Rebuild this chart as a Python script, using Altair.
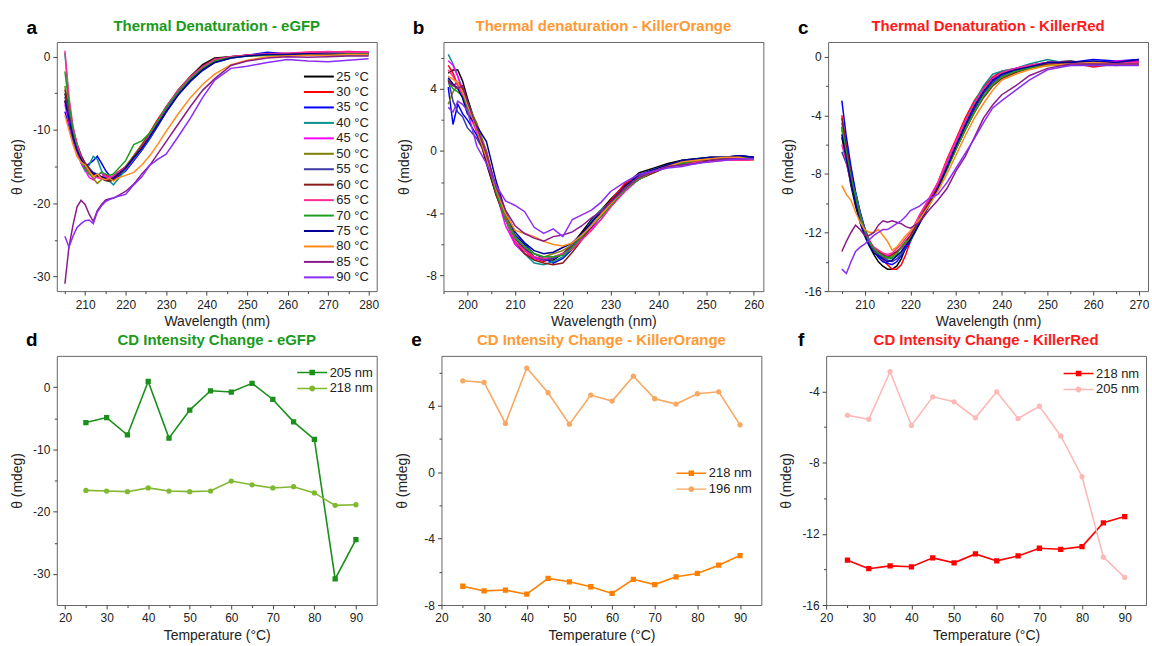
import altair as alt
import pandas as pd

FONT = "Liberation Sans"

TEMPS = [25, 30, 35, 40, 45, 50, 55, 60, 65, 70, 75, 80, 85, 90]
TEMP_LABELS = [str(t) + " °C" for t in TEMPS]
TEMP_COLORS = ["#000000", "#ff0000", "#0000ff", "#0a8f8f", "#ff00ff", "#808000",
               "#3b3ba3", "#8b1a1a", "#ff2a9a", "#1e9e1e", "#000099", "#ff8c1a",
               "#8b1a8b", "#8c2cf5"]

# ---------------- panel a : eGFP spectra ----------------
WL_A = [205, 206, 207, 208, 209, 210, 211, 212, 213, 214, 215, 216, 217, 218,
        220, 222, 224, 226, 228, 230, 233, 236, 239, 242, 246, 250,
        255, 260, 265, 270, 275, 280]
A25 = [-5.0, -7.5, -10.0, -12.0, -13.5, -14.8, -15.6, -16.0, -16.3, -16.6, -16.9, -17.0, -16.8, -16.4, -15.2, -13.8, -12.2, -10.5, -8.7, -7.0, -4.6, -2.7, -1.1, -0.2, 0.0, 0.1, 0.3, 0.3, 0.4, 0.4, 0.5, 0.5]
A30 = [-6.0, -8.5, -10.8, -12.6, -14.0, -15.0, -15.6, -15.9, -16.2, -16.4, -16.1, -16.5, -16.3, -15.8, -15.0, -13.6, -12.0, -10.3, -8.5, -6.9, -4.8, -3.0, -1.5, -0.6, 0.0, 0.2, 0.3, 0.4, 0.6, 0.6, 0.7, 0.6]
A35 = [-7.5, -9.5, -11.5, -13.0, -14.3, -15.0, -14.6, -14.2, -13.6, -14.5, -15.5, -16.2, -16.6, -16.4, -15.6, -14.2, -12.8, -11.2, -9.4, -7.6, -5.2, -3.4, -1.9, -0.8, -0.2, 0.2, 0.6, 0.4, 0.3, 0.4, 0.5, 0.5]
A40 = [0.5, -6.0, -10.0, -12.8, -14.5, -15.6, -14.8, -13.6, -14.0, -15.5, -16.6, -17.0, -17.5, -16.8, -15.4, -14.0, -12.6, -11.0, -9.2, -7.4, -5.1, -3.2, -1.7, -0.6, -0.2, 0.1, 0.3, 0.2, 0.3, 0.2, 0.3, 0.3]
A45 = [-6.5, -9.0, -11.2, -13.0, -14.5, -15.5, -16.5, -16.8, -16.3, -15.8, -16.5, -16.2, -16.6, -16.0, -15.3, -13.8, -12.4, -10.7, -8.9, -7.1, -4.9, -3.0, -1.5, -0.5, 0.0, 0.2, 0.3, 0.4, 0.5, 0.5, 0.6, 0.6]
A50 = [-4.0, -7.5, -10.0, -12.2, -13.8, -15.0, -16.0, -16.6, -17.3, -16.8, -16.4, -16.8, -16.5, -16.1, -15.0, -13.5, -12.0, -10.4, -8.7, -6.9, -4.7, -2.8, -1.4, -0.4, 0.0, 0.1, 0.2, 0.2, 0.2, 0.3, 0.3, 0.3]
A55 = [-5.5, -8.0, -10.5, -12.4, -13.8, -14.6, -15.2, -15.8, -16.0, -16.4, -16.6, -16.9, -16.5, -16.0, -15.1, -13.7, -12.3, -10.6, -8.8, -7.0, -4.8, -3.0, -1.6, -0.6, -0.1, 0.2, 0.4, 0.4, 0.4, 0.5, 0.5, 0.5]
A60 = [-4.5, -7.0, -9.8, -12.0, -13.5, -14.5, -15.3, -16.0, -16.3, -16.6, -16.8, -17.0, -16.8, -16.3, -15.2, -13.8, -12.2, -10.5, -8.7, -6.9, -4.5, -2.7, -1.3, -0.3, 0.0, 0.2, 0.3, 0.3, 0.4, 0.3, 0.4, 0.4]
A65 = [0.8, -5.5, -9.5, -12.0, -13.8, -15.0, -15.8, -16.2, -16.5, -16.7, -16.4, -16.6, -16.2, -15.8, -15.2, -13.9, -12.4, -10.6, -8.7, -6.8, -4.6, -2.8, -1.4, -0.4, 0.0, 0.2, 0.4, 0.5, 0.6, 0.7, 0.6, 0.6]
A70 = [-2.0, -6.5, -10.0, -12.5, -14.2, -15.3, -16.0, -16.4, -16.2, -15.8, -16.0, -16.2, -16.0, -15.4, -14.2, -12.0, -11.5, -10.4, -8.8, -6.9, -4.8, -3.0, -1.6, -0.6, -0.1, 0.1, 0.2, 0.3, 0.3, 0.3, 0.4, 0.4]
A75 = [-6.0, -8.5, -11.0, -12.8, -14.0, -14.9, -15.5, -15.9, -16.2, -16.4, -16.6, -16.7, -16.6, -16.1, -15.2, -13.8, -12.5, -10.9, -9.2, -7.5, -5.2, -3.3, -1.8, -0.8, -0.2, 0.1, 0.3, 0.3, 0.4, 0.3, 0.3, 0.3]
A80 = [-8.0, -10.0, -12.0, -13.6, -14.4, -14.8, -15.6, -16.4, -16.0, -16.6, -16.8, -16.6, -17.0, -16.6, -16.2, -15.8, -14.8, -13.5, -11.9, -10.2, -7.8, -5.6, -3.8, -2.4, -1.1, -0.5, 0.0, 0.1, 0.2, 0.2, 0.3, 0.3]
A85 = [-31.0, -26.0, -23.0, -20.5, -19.6, -20.2, -21.5, -22.5, -21.0, -20.2, -19.6, -19.4, -19.3, -19.0, -18.4, -17.4, -16.0, -14.8, -13.2, -11.6, -9.2, -6.8, -4.6, -3.0, -1.2, -0.6, -0.2, 0.0, -0.1, 0.0, 0.1, 0.1]
A90 = [-24.5, -26.0, -24.5, -23.3, -22.8, -22.4, -22.3, -22.8, -21.2, -20.4, -19.8, -19.5, -19.3, -19.1, -18.8, -17.5, -16.4, -14.8, -14.0, -13.3, -10.9, -8.4, -5.6, -3.2, -1.6, -1.3, -0.8, -0.4, -0.6, -0.7, -0.5, -0.3]
SERIES_A = [A25, A30, A35, A40, A45, A50, A55, A60, A65, A70, A75, A80, A85, A90]

# ---------------- panel b : KillerOrange spectra ----------------
WL_B = [196, 197, 198, 199, 200, 202, 204, 206, 208, 210, 212, 214, 216, 218, 220,
        222, 224, 226, 228, 230, 233, 236, 239, 242, 245, 248, 251, 254, 257, 260]
B25 = [5.0, 5.2, 5.2, 4.5, 3.4, 1.5, -0.8, -2.8, -4.4, -5.6, -6.2, -6.8, -7.0, -7.0, -6.6, -6.0, -5.2, -4.4, -3.8, -3.1, -2.2, -1.4, -1.1, -0.8, -0.6, -0.5, -0.4, -0.4, -0.3, -0.4]
B30 = [5.5, 5.0, 4.2, 3.8, 3.0, 1.4, -0.4, -2.5, -4.2, -5.6, -6.4, -6.9, -7.1, -6.9, -6.6, -6.0, -5.3, -4.6, -3.9, -3.2, -2.1, -1.6, -1.3, -0.9, -0.7, -0.6, -0.5, -0.5, -0.4, -0.5]
B35 = [4.1, 1.7, 3.0, 2.4, 2.0, 1.0, -0.2, -2.4, -4.0, -5.4, -6.0, -6.6, -6.9, -7.2, -6.9, -6.3, -5.6, -4.9, -4.2, -3.5, -2.4, -1.6, -1.3, -0.9, -0.7, -0.6, -0.5, -0.4, -0.3, -0.4]
B40 = [6.2, 5.6, 4.8, 4.0, 3.2, 1.6, -0.5, -2.7, -4.4, -6.0, -6.6, -7.2, -7.3, -7.1, -6.8, -6.2, -5.4, -4.5, -3.8, -3.3, -2.3, -1.6, -1.2, -1.0, -0.8, -0.6, -0.5, -0.4, -0.4, -0.4]
B45 = [5.8, 5.5, 4.8, 3.8, 3.0, 1.2, 0.0, -2.6, -4.8, -6.0, -6.6, -6.9, -7.0, -6.8, -6.6, -6.2, -5.6, -5.0, -4.4, -3.6, -2.6, -1.8, -1.3, -1.0, -0.8, -0.7, -0.6, -0.6, -0.5, -0.5]
B50 = [3.0, 3.8, 4.2, 3.6, 3.0, 1.8, 0.0, -2.4, -4.2, -5.5, -6.2, -6.6, -6.8, -6.6, -6.4, -6.0, -5.4, -4.8, -4.1, -3.4, -2.4, -1.8, -1.4, -1.0, -0.8, -0.7, -0.6, -0.6, -0.5, -0.6]
B55 = [4.6, 3.2, 2.5, 2.2, 1.5, 0.8, -0.3, -2.6, -4.4, -5.6, -6.3, -6.8, -7.0, -6.9, -6.6, -6.1, -5.4, -4.6, -3.9, -3.3, -2.3, -1.6, -1.2, -0.9, -0.7, -0.6, -0.5, -0.4, -0.4, -0.4]
B60 = [4.5, 4.2, 4.4, 4.0, 3.2, 1.2, -0.6, -2.8, -4.4, -5.8, -6.6, -7.0, -7.2, -7.3, -7.2, -6.5, -5.7, -4.8, -4.1, -3.4, -2.4, -1.8, -1.4, -1.0, -0.8, -0.7, -0.6, -0.5, -0.5, -0.5]
B65 = [5.2, 4.8, 4.2, 3.6, 2.6, 1.2, -0.2, -2.5, -4.4, -5.8, -6.4, -6.8, -6.9, -6.8, -6.6, -6.3, -5.7, -5.1, -4.4, -3.6, -2.5, -1.8, -1.3, -1.0, -0.9, -0.7, -0.7, -0.6, -0.6, -0.6]
B70 = [4.4, 4.0, 3.8, 3.5, 2.8, 1.4, -0.3, -2.6, -4.4, -5.6, -6.1, -6.6, -6.8, -6.8, -6.7, -6.2, -5.5, -4.8, -4.2, -3.5, -2.5, -1.8, -1.3, -1.0, -0.8, -0.6, -0.5, -0.5, -0.4, -0.5]
B75 = [4.7, 4.3, 4.0, 3.4, 2.4, 1.6, 0.6, -1.9, -3.9, -5.2, -5.9, -6.4, -6.6, -6.5, -6.2, -5.9, -5.3, -4.6, -3.9, -3.3, -2.3, -1.5, -1.2, -0.9, -0.6, -0.5, -0.4, -0.4, -0.3, -0.4]
B80 = [4.8, 4.6, 4.4, 3.8, 3.0, 1.4, -0.4, -2.4, -4.0, -5.1, -5.3, -5.5, -5.8, -6.0, -6.1, -5.9, -5.4, -4.8, -4.1, -3.4, -2.4, -1.7, -1.3, -1.0, -0.7, -0.6, -0.5, -0.4, -0.4, -0.6]
B85 = [4.4, 4.2, 4.0, 4.2, 3.2, 1.5, -0.2, -2.3, -3.8, -4.8, -5.3, -5.6, -5.8, -5.5, -5.4, -5.2, -4.8, -4.3, -3.9, -3.3, -2.4, -1.7, -1.3, -1.0, -0.9, -0.8, -0.6, -0.5, -0.5, -0.5]
B90 = [2.8, 2.5, 3.2, 3.0, 2.6, 0.3, -0.8, -2.2, -3.2, -3.5, -3.9, -4.9, -5.3, -5.0, -5.5, -4.4, -4.1, -3.8, -3.3, -2.6, -2.0, -1.5, -1.3, -1.1, -1.0, -0.8, -0.7, -0.6, -0.5, -0.5]
SERIES_B = [B25, B30, B35, B40, B45, B50, B55, B60, B65, B70, B75, B80, B85, B90]

# ---------------- panel c : KillerRed spectra ----------------
WL_C = [205, 206, 207, 208, 209, 210, 211, 212, 213, 214, 215, 216, 217, 218, 219, 220,
        222, 224, 226, 228, 230, 232, 234, 236, 238, 240, 243, 246, 250, 255, 260, 265, 270]
C25 = [-5.5, -7.0, -8.8, -10.2, -11.3, -12.2, -12.9, -13.5, -14.0, -14.3, -14.5, -14.5, -14.3, -13.8, -13.0, -12.3, -11.0, -10.0, -8.9, -7.5, -6.0, -4.6, -3.4, -2.3, -1.6, -1.2, -0.9, -0.7, -0.4, -0.3, -0.5, -0.4, -0.3]
C30 = [-4.0, -6.0, -7.8, -9.3, -10.6, -11.7, -12.5, -13.1, -13.5, -13.9, -14.2, -14.5, -14.5, -14.2, -13.5, -12.6, -11.0, -9.8, -8.6, -7.0, -5.6, -4.2, -3.0, -2.1, -1.4, -1.0, -0.8, -0.6, -0.4, -0.4, -0.7, -0.5, -0.5]
C35 = [-3.0, -5.5, -7.5, -9.2, -10.6, -11.7, -12.6, -13.2, -13.7, -14.0, -14.1, -14.2, -14.0, -13.6, -13.1, -12.6, -11.3, -10.1, -9.0, -7.6, -6.2, -4.8, -3.6, -2.5, -1.7, -1.2, -0.9, -0.7, -0.4, -0.4, -0.2, -0.3, -0.2]
C40 = [-5.0, -6.8, -8.4, -9.3, -10.7, -11.8, -12.6, -13.2, -13.5, -13.6, -13.8, -13.8, -13.6, -13.4, -12.8, -12.3, -11.0, -9.9, -8.8, -7.2, -5.8, -4.4, -3.1, -2.0, -1.2, -1.0, -0.8, -0.5, -0.2, -0.5, -0.6, -0.5, -0.4]
C45 = [-4.5, -6.5, -8.2, -9.7, -11.0, -12.0, -12.6, -13.0, -13.3, -13.5, -13.6, -13.5, -13.3, -13.1, -12.8, -12.4, -11.1, -9.9, -8.7, -7.2, -5.8, -4.4, -3.2, -2.2, -1.5, -1.1, -0.8, -0.6, -0.4, -0.4, -0.5, -0.3, -0.3]
C50 = [-4.8, -6.6, -8.3, -9.8, -11.1, -12.1, -12.8, -13.3, -13.5, -13.7, -13.8, -13.6, -13.4, -13.0, -12.7, -12.3, -11.2, -10.1, -9.0, -7.7, -6.3, -5.0, -3.8, -2.7, -1.9, -1.4, -1.0, -0.8, -0.6, -0.6, -0.5, -0.6, -0.5]
C55 = [-6.5, -7.3, -8.6, -9.8, -11.0, -12.0, -12.7, -13.2, -13.5, -13.7, -13.9, -14.0, -13.8, -13.5, -13.0, -12.5, -11.3, -10.1, -9.0, -7.5, -6.1, -4.7, -3.5, -2.5, -1.8, -1.3, -1.0, -0.7, -0.5, -0.5, -0.5, -0.5, -0.4]
C60 = [-4.2, -6.2, -8.0, -9.6, -10.9, -11.9, -12.6, -13.1, -13.3, -13.5, -13.7, -13.5, -13.3, -13.0, -12.6, -12.2, -11.1, -10.0, -8.9, -7.6, -6.3, -5.0, -3.8, -2.8, -2.0, -1.5, -1.1, -0.8, -0.5, -0.5, -0.6, -0.5, -0.5]
C65 = [-6.0, -7.2, -8.6, -9.9, -11.1, -12.0, -12.6, -13.0, -13.2, -13.4, -13.5, -13.4, -13.1, -12.8, -12.4, -12.0, -10.8, -9.7, -8.6, -7.1, -5.7, -4.4, -3.2, -2.2, -1.6, -1.1, -0.8, -0.6, -0.4, -0.4, -0.5, -0.4, -0.4]
C70 = [-4.8, -6.6, -8.2, -9.6, -10.9, -11.9, -12.6, -13.1, -13.4, -13.6, -13.7, -13.7, -13.5, -13.0, -12.6, -12.6, -11.4, -10.2, -9.1, -7.7, -6.3, -5.0, -3.8, -2.7, -1.9, -1.4, -1.0, -0.8, -0.6, -0.5, -0.5, -0.5, -0.5]
C75 = [-5.3, -7.0, -8.6, -10.0, -11.3, -12.2, -12.9, -13.4, -13.6, -13.8, -14.0, -13.9, -13.6, -13.3, -12.9, -12.5, -11.4, -10.2, -9.0, -7.6, -6.1, -4.7, -3.4, -2.4, -1.6, -1.2, -0.9, -0.7, -0.4, -0.4, -0.3, -0.4, -0.2]
C80 = [-8.8, -9.4, -9.8, -10.6, -11.3, -11.8, -12.0, -12.0, -11.8, -12.2, -12.6, -13.2, -13.0, -12.6, -12.2, -11.9, -11.1, -10.2, -9.2, -8.0, -6.7, -5.4, -4.2, -3.2, -2.3, -1.6, -1.2, -0.9, -0.6, -0.5, -0.4, -0.5, -0.5]
C85 = [-13.3, -12.6, -12.0, -11.5, -11.8, -12.2, -12.2, -12.0, -11.5, -11.2, -11.3, -11.2, -11.3, -11.4, -11.6, -11.7, -11.3, -10.5, -9.8, -9.0, -7.8, -6.8, -5.5, -4.2, -3.3, -2.6, -2.0, -1.3, -0.8, -0.5, -0.5, -0.5, -0.5]
C90 = [-14.5, -14.8, -14.0, -13.3, -13.0, -12.8, -12.5, -12.2, -12.0, -11.8, -11.8, -11.6, -11.4, -11.2, -10.9, -10.5, -10.2, -9.7, -9.4, -8.6, -7.6, -6.6, -5.6, -4.5, -3.5, -3.0, -2.3, -1.6, -0.9, -0.6, -0.6, -0.6, -0.6]
SERIES_C = [C25, C30, C35, C40, C45, C50, C55, C60, C65, C70, C75, C80, C85, C90]

# ---------------- bottom panels : intensity vs temperature ----------------
D_205 = [-5.7, -4.9, -7.7, 0.9, -8.2, -3.7, -0.6, -0.8, 0.6, -2.0, -5.6, -8.4, -30.8, -24.5]
D_218 = [-16.6, -16.7, -16.8, -16.2, -16.7, -16.8, -16.7, -15.1, -15.7, -16.2, -16.0, -17.0, -19.0, -18.9]
E_218 = [-6.87, -7.15, -7.1, -7.35, -6.4, -6.6, -6.9, -7.3, -6.45, -6.77, -6.3, -6.1, -5.6, -5.02]
E_196 = [5.5, 5.4, 2.93, 6.27, 4.78, 2.89, 4.64, 4.28, 5.78, 4.42, 4.1, 4.72, 4.84, 2.85]
F_218 = [-13.48, -13.96, -13.8, -13.85, -13.35, -13.63, -13.13, -13.52, -13.24, -12.81, -12.87, -12.72, -11.38, -11.03]
F_205 = [-5.34, -5.56, -2.89, -5.91, -4.3, -4.58, -5.48, -4.02, -5.52, -4.83, -6.5, -8.79, -13.31, -14.45]

LEG_SQUARE = "M-3,-0.15H3V0.15H-3Z M-0.55,-0.55H0.55V0.55H-0.55Z"
LEG_CIRCLE = "M-3,-0.15H3V0.15H-3Z M-0.6,0A0.6,0.6,0,1,1,0.6,0A0.6,0.6,0,1,1,-0.6,0Z"

W, H = 321, 250


def x_axis(values, title):
    return alt.Axis(values=values, title=title, orient="bottom", tickSize=4, labelPadding=4,
                    titlePadding=5, labelFlush=False, domain=False, grid=False,
                    labelExpr="datum.value + ''")


def y_axis(values):
    return alt.Axis(values=values, title="θ (mdeg)", orient="left", tickSize=4, labelPadding=3,
                    minExtent=28, maxExtent=28, titlePadding=4.5, domain=False, grid=False,
                    labelFlush=False, labelExpr="datum.value + ''")


def x_minor(values):
    return alt.Axis(values=values, title=None, orient="bottom", tickSize=2.5, labels=False,
                    domain=False, grid=False)


def y_minor(values):
    return alt.Axis(values=values, title=None, orient="left", tickSize=2.5, labels=False,
                    domain=False, grid=False)


def texts(letter, title, color, ly, ty):
    one = alt.Data(values=[{"k": 0}])
    lt = alt.Chart(one).mark_text(text=letter, font=FONT, fontSize=19, fontWeight="bold",
                                  color="#000", align="center", baseline="alphabetic").encode(
        x=alt.value(-25), y=alt.value(ly))
    tt = alt.Chart(one).mark_text(text=title, font=FONT, fontSize=15, fontWeight="bold",
                                  color=color, align="center", baseline="alphabetic").encode(
        x=alt.value(W / 2), y=alt.value(ty))
    return lt, tt


def spectrum_panel(wl, series, letter, title, tcolor, xdom, xmaj, xmin, ydom, ymaj, ymin, legend):
    rows = []
    for lab, vals in zip(TEMP_LABELS, series):
        for w, v in zip(wl, vals):
            rows.append({"wl": w, "theta": v, "temp": lab})
    df = pd.DataFrame(rows)
    xs = alt.Scale(domain=xdom, nice=False, zero=False)
    ys = alt.Scale(domain=ydom, nice=False, zero=False)
    if legend:
        leg = alt.Legend(title=None, orient="none", legendX=256.5, legendY=28.2,
                         symbolType="M-3,0H3", symbolSize=100, symbolStrokeWidth=2,
                         labelFont=FONT, labelFontSize=13, labelColor="#222",
                         labelOffset=11, rowPadding=1.5, padding=0)
    else:
        leg = None
    lines = alt.Chart(df).mark_line(strokeWidth=1.5, clip=True).encode(
        x=alt.X("wl:Q", scale=xs, axis=x_axis(xmaj, "Wavelength (nm)")),
        y=alt.Y("theta:Q", scale=ys, axis=y_axis(ymaj)),
        color=alt.Color("temp:N", scale=alt.Scale(domain=TEMP_LABELS, range=TEMP_COLORS),
                        sort=TEMP_LABELS, legend=leg),
    )
    minor = alt.Chart(df).mark_point(opacity=0, size=1).encode(
        x=alt.X("wl:Q", scale=xs, axis=x_minor(xmin)),
        y=alt.Y("theta:Q", scale=ys, axis=y_minor(ymin)),
    )
    lt, tt = texts(letter, title, tcolor, -8.5, -11.5)
    return alt.layer(lines, minor, lt, tt).resolve_axis(x="independent", y="independent").properties(
        width=W, height=H)


def temp_panel(n1, v1, c1, n2, v2, c2, shapes, legshapes, letter, title, tcolor,
               xdom, ydom, ymaj, ymin, lx, ly):
    rows = []
    for name, vals in ((n1, v1), (n2, v2)):
        for t, v in zip(TEMPS, vals):
            rows.append({"T": t, "theta": v, "series": name})
    df = pd.DataFrame(rows)
    dom = [n1, n2]
    xs = alt.Scale(domain=xdom, nice=False, zero=False)
    ys = alt.Scale(domain=ydom, nice=False, zero=False)
    col = alt.Color("series:N", scale=alt.Scale(domain=dom, range=[c1, c2]), legend=None)
    lines = alt.Chart(df).mark_line(strokeWidth=1.6, clip=True).encode(
        x=alt.X("T:Q", scale=xs, axis=x_axis([20, 30, 40, 50, 60, 70, 80, 90], "Temperature (°C)")),
        y=alt.Y("theta:Q", scale=ys, axis=y_axis(ymaj)),
        color=col,
    )
    pts = alt.Chart(df).mark_point(filled=True, size=28, opacity=1, clip=True).encode(
        x=alt.X("T:Q", scale=xs, axis=x_minor([25, 35, 45, 55, 65, 75, 85])),
        y=alt.Y("theta:Q", scale=ys, axis=y_minor(ymin)),
        color=col,
        shape=alt.Shape("series:N", scale=alt.Scale(domain=dom, range=shapes), legend=None),
    )
    legp = dict(title=None, orient="none", legendX=lx, legendY=ly, symbolSize=100,
                symbolOpacity=1, symbolStrokeWidth=0, labelFont=FONT, labelFontSize=13,
                labelColor="#222", labelOffset=11, rowPadding=2, padding=0)
    legl = alt.Chart(df).mark_point(filled=True, opacity=0).encode(
        x=alt.X("T:Q", scale=xs, axis=None),
        y=alt.Y("theta:Q", scale=ys, axis=None),
        fill=alt.Fill("series:N", scale=alt.Scale(domain=dom, range=[c1, c2]),
                      legend=alt.Legend(**legp)),
        shape=alt.Shape("series:N", scale=alt.Scale(domain=dom, range=legshapes),
                        legend=alt.Legend(**legp)),
    )
    lt, tt = texts(letter, title, tcolor, -9.7, -10.7)
    return alt.layer(lines, pts, legl, lt, tt).resolve_scale(
        shape="independent", fill="independent").resolve_axis(
        x="independent", y="independent").properties(width=W, height=H)


GREEN_T = "#1a9a1a"
ORANGE_T = "#ff9933"
RED_T = "#ff1a1a"

pa = spectrum_panel(WL_A, SERIES_A, "a", "Thermal Denaturation - eGFP", GREEN_T,
                    [203, 282], [210, 220, 230, 240, 250, 260, 270, 280],
                    [205, 215, 225, 235, 245, 255, 265, 275],
                    [-32, 2], [-30, -20, -10, 0], [-25, -15, -5], True)
pb = spectrum_panel(WL_B, SERIES_B, "b", "Thermal denaturation - KillerOrange", ORANGE_T,
                    [195, 262], [200, 210, 220, 230, 240, 250, 260],
                    [195, 205, 215, 225, 235, 245, 255],
                    [-9, 7], [-8, -4, 0, 4], [-6, -2, 2, 6], False)
pc = spectrum_panel(WL_C, SERIES_C, "c", "Thermal Denaturation - KillerRed", RED_T,
                    [202, 272], [210, 220, 230, 240, 250, 260, 270],
                    [205, 215, 225, 235, 245, 255, 265],
                    [-16, 1], [-16, -12, -8, -4, 0], [-14, -10, -6, -2], False)

pd_ = temp_panel("205 nm", D_205, "#1a8f1a", "218 nm", D_218, "#80b832",
                 ["square", "circle"], [LEG_SQUARE, LEG_CIRCLE],
                 "d", "CD Intensity Change - eGFP", GREEN_T,
                 [18, 95], [-35, 5], [-30, -20, -10, 0], [-25, -15, -5], 249.8, 10.2)
pe = temp_panel("218 nm", E_218, "#ff8000", "196 nm", E_196, "#f8a860",
                ["square", "circle"], [LEG_SQUARE, LEG_CIRCLE],
                "e", "CD Intensity Change - KillerOrange", ORANGE_T,
                [20, 95], [-8, 7], [-8, -4, 0, 4], [-6, -2, 2, 6], 244.2, 111.2)
pf = temp_panel("218 nm", F_218, "#ff0000", "205 nm", F_205, "#ffb8b8",
                ["square", "circle"], [LEG_SQUARE, LEG_CIRCLE],
                "f", "CD Intensity Change - KillerRed", RED_T,
                [20, 95], [-16, -2], [-16, -12, -8, -4], [-14, -10, -6], 246.8, 11.2)

IND = dict(color="independent", shape="independent", fill="independent")

row1 = alt.hconcat(pa, pb, pc, spacing=17).resolve_scale(**IND)
row2 = alt.hconcat(pd_, pe, pf, spacing=17).resolve_scale(**IND)

chart = alt.vconcat(row1, row2, spacing=0).resolve_scale(**IND).properties(
    padding={"left": 10, "top": 17, "right": 2, "bottom": 2},
    background="white",
).configure_view(
    stroke="#666", strokeWidth=1
).configure_axis(
    labelFont=FONT, labelFontSize=12, labelColor="#222",
    titleFont=FONT, titleFontSize=14, titleFontWeight="normal", titleColor="#222",
    tickColor="#444", tickWidth=1,
)

chart.save("out.html", embed_options={"renderer": "svg", "actions": False})
